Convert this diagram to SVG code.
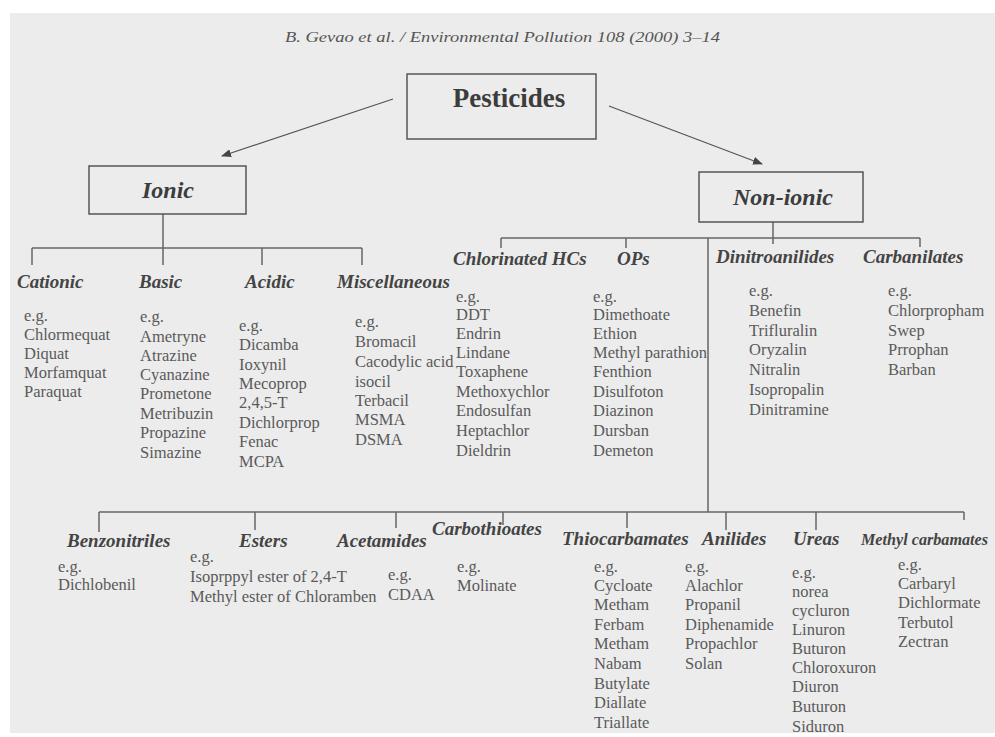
<svg xmlns="http://www.w3.org/2000/svg" width="995" height="737" viewBox="0 0 995 737">
<defs>
<style>
.page{fill:#ececec}
.hdr{font-family:"Liberation Serif",serif;font-style:italic;font-size:14.5px;fill:#555}
.box{fill:none;stroke:#555;stroke-width:1.5}
.top{font-family:"Liberation Serif",serif;font-weight:bold;font-size:27px;fill:#3c3c3c;text-anchor:middle}
.mid{font-family:"Liberation Serif",serif;font-weight:bold;font-style:italic;font-size:24px;fill:#3c3c3c;text-anchor:middle}
.cat{font-family:"Liberation Serif",serif;font-weight:bold;font-style:italic;font-size:19px;fill:#444}
.lst{font-family:"Liberation Serif",serif;font-size:16.5px;fill:#5a5a5a}
.ln{fill:none;stroke:#666;stroke-width:1.5}
.ar{fill:none;stroke:#555;stroke-width:1.3}
</style>
<marker id="ah" markerWidth="10" markerHeight="8" refX="9" refY="4" orient="auto" markerUnits="userSpaceOnUse">
<path d="M0,0 L10,4 L0,8 Z" fill="#444"/>
</marker>
</defs>
<rect x="0" y="0" width="995" height="737" fill="#ffffff"/>
<rect class="page" x="10" y="13" width="985" height="720"/>
<text class="hdr" x="285" y="42" textLength="435" lengthAdjust="spacingAndGlyphs">B. Gevao et al. / Environmental Pollution 108 (2000) 3–14</text>

<g id="connectors">
<line class="ar" x1="393" y1="99" x2="222" y2="156" marker-end="url(#ah)"/>
<line class="ar" x1="609" y1="106" x2="762" y2="164" marker-end="url(#ah)"/>
<path class="ln" d="M163,214 V248 M32,248 H362 M32,248 V265 M163,248 V265 M262,248 V265 M362,248 V265"/>
<path class="ln" d="M773,222 V244 M501,238 H920 M501,238 V248 M626,238 V248 M920,238 V247 M708,238 V512"/>
<path class="ln" d="M99,512 H964 M99,512 V532 M255,512 V530 M396,512 V528 M503,512 V525 M627,512 V528 M726,512 V530 M816,512 V530 M964,512 V520"/>
</g>

<g id="pesticides">
<rect class="box" x="407" y="74" width="189" height="65"/>
<text class="top" x="509" y="107">Pesticides</text>
</g>
<g id="ionic">
<rect class="box" x="89" y="166" width="157" height="48"/>
<text class="mid" x="168" y="198">Ionic</text>
</g>
<g id="non-ionic">
<rect class="box" x="699" y="172" width="164" height="50"/>
<text class="mid" x="783" y="205">Non-ionic</text>
</g>

<g id="cationic">
<text class="cat" x="17" y="288">Cationic</text>
<text class="lst"><tspan x="24" y="321">e.g.</tspan><tspan x="24" y="340">Chlormequat</tspan><tspan x="24" y="359">Diquat</tspan><tspan x="24" y="378">Morfamquat</tspan><tspan x="24" y="397">Paraquat</tspan></text>
</g>
<g id="basic">
<text class="cat" x="139" y="288">Basic</text>
<text class="lst"><tspan x="140" y="322">e.g.</tspan><tspan x="140" y="342">Ametryne</tspan><tspan x="140" y="361">Atrazine</tspan><tspan x="140" y="380">Cyanazine</tspan><tspan x="140" y="399">Prometone</tspan><tspan x="140" y="419">Metribuzin</tspan><tspan x="140" y="438">Propazine</tspan><tspan x="140" y="458">Simazine</tspan></text>
</g>
<g id="acidic">
<text class="cat" x="245" y="288">Acidic</text>
<text class="lst"><tspan x="239" y="331">e.g.</tspan><tspan x="239" y="350">Dicamba</tspan><tspan x="239" y="370">Ioxynil</tspan><tspan x="239" y="389">Mecoprop</tspan><tspan x="239" y="408">2,4,5-T</tspan><tspan x="239" y="428">Dichlorprop</tspan><tspan x="239" y="447">Fenac</tspan><tspan x="239" y="467">MCPA</tspan></text>
</g>
<g id="miscellaneous">
<text class="cat" x="337" y="288">Miscellaneous</text>
<text class="lst"><tspan x="355" y="327">e.g.</tspan><tspan x="355" y="347">Bromacil</tspan><tspan x="355" y="367">Cacodylic acid</tspan><tspan x="355" y="387">isocil</tspan><tspan x="355" y="406">Terbacil</tspan><tspan x="355" y="425">MSMA</tspan><tspan x="355" y="445">DSMA</tspan></text>
</g>

<g id="chlorinated-hcs">
<text class="cat" x="453" y="265">Chlorinated HCs</text>
<text class="lst"><tspan x="456" y="302">e.g.</tspan><tspan x="456" y="320">DDT</tspan><tspan x="456" y="339">Endrin</tspan><tspan x="456" y="358">Lindane</tspan><tspan x="456" y="377">Toxaphene</tspan><tspan x="456" y="397">Methoxychlor</tspan><tspan x="456" y="416">Endosulfan</tspan><tspan x="456" y="436">Heptachlor</tspan><tspan x="456" y="456">Dieldrin</tspan></text>
</g>
<g id="ops">
<text class="cat" x="617" y="265">OPs</text>
<text class="lst"><tspan x="593" y="302">e.g.</tspan><tspan x="593" y="320">Dimethoate</tspan><tspan x="593" y="339">Ethion</tspan><tspan x="593" y="358">Methyl parathion</tspan><tspan x="593" y="377">Fenthion</tspan><tspan x="593" y="397">Disulfoton</tspan><tspan x="593" y="416">Diazinon</tspan><tspan x="593" y="436">Dursban</tspan><tspan x="593" y="456">Demeton</tspan></text>
</g>
<g id="dinitroanilides">
<text class="cat" x="716" y="263">Dinitroanilides</text>
<text class="lst"><tspan x="749" y="296">e.g.</tspan><tspan x="749" y="316">Benefin</tspan><tspan x="749" y="336">Trifluralin</tspan><tspan x="749" y="355">Oryzalin</tspan><tspan x="749" y="375">Nitralin</tspan><tspan x="749" y="395">Isopropalin</tspan><tspan x="749" y="415">Dinitramine</tspan></text>
</g>
<g id="carbanilates">
<text class="cat" x="863" y="263">Carbanilates</text>
<text class="lst"><tspan x="888" y="296">e.g.</tspan><tspan x="888" y="316">Chlorpropham</tspan><tspan x="888" y="336">Swep</tspan><tspan x="888" y="355">Prrophan</tspan><tspan x="888" y="375">Barban</tspan></text>
</g>

<g id="benzonitriles">
<text class="cat" x="67" y="547">Benzonitriles</text>
<text class="lst"><tspan x="58" y="572">e.g.</tspan><tspan x="58" y="590">Dichlobenil</tspan></text>
</g>
<g id="esters">
<text class="cat" x="239" y="547">Esters</text>
<text class="lst"><tspan x="190" y="562">e.g.</tspan><tspan x="190" y="582">Isoprppyl ester of 2,4-T</tspan><tspan x="190" y="602">Methyl ester of Chloramben</tspan></text>
</g>
<g id="acetamides">
<text class="cat" x="337" y="547">Acetamides</text>
<text class="lst"><tspan x="388" y="580">e.g.</tspan><tspan x="388" y="600">CDAA</tspan></text>
</g>
<g id="carbothioates">
<text class="cat" x="432" y="535">Carbothioates</text>
<text class="lst"><tspan x="457" y="572">e.g.</tspan><tspan x="457" y="591">Molinate</tspan></text>
</g>
<g id="thiocarbamates">
<text class="cat" x="562" y="545">Thiocarbamates</text>
<text class="lst"><tspan x="594" y="572">e.g.</tspan><tspan x="594" y="591">Cycloate</tspan><tspan x="594" y="610">Metham</tspan><tspan x="594" y="630">Ferbam</tspan><tspan x="594" y="649">Metham</tspan><tspan x="594" y="669">Nabam</tspan><tspan x="594" y="689">Butylate</tspan><tspan x="594" y="708">Diallate</tspan><tspan x="594" y="728">Triallate</tspan></text>
</g>
<g id="anilides">
<text class="cat" x="702" y="545">Anilides</text>
<text class="lst"><tspan x="685" y="572">e.g.</tspan><tspan x="685" y="591">Alachlor</tspan><tspan x="685" y="610">Propanil</tspan><tspan x="685" y="630">Diphenamide</tspan><tspan x="685" y="649">Propachlor</tspan><tspan x="685" y="669">Solan</tspan></text>
</g>
<g id="ureas">
<text class="cat" x="793" y="545">Ureas</text>
<text class="lst"><tspan x="792" y="578">e.g.</tspan><tspan x="792" y="597">norea</tspan><tspan x="792" y="616">cycluron</tspan><tspan x="792" y="635">Linuron</tspan><tspan x="792" y="654">Buturon</tspan><tspan x="792" y="673">Chloroxuron</tspan><tspan x="792" y="692">Diuron</tspan><tspan x="792" y="712">Buturon</tspan><tspan x="792" y="732">Siduron</tspan></text>
</g>
<g id="methyl-carbamates">
<text class="cat" x="861" y="545" style="font-size:16px" textLength="127" lengthAdjust="spacingAndGlyphs">Methyl carbamates</text>
<text class="lst"><tspan x="898" y="570">e.g.</tspan><tspan x="898" y="589">Carbaryl</tspan><tspan x="898" y="608">Dichlormate</tspan><tspan x="898" y="628">Terbutol</tspan><tspan x="898" y="647">Zectran</tspan></text>
</g>
</svg>
